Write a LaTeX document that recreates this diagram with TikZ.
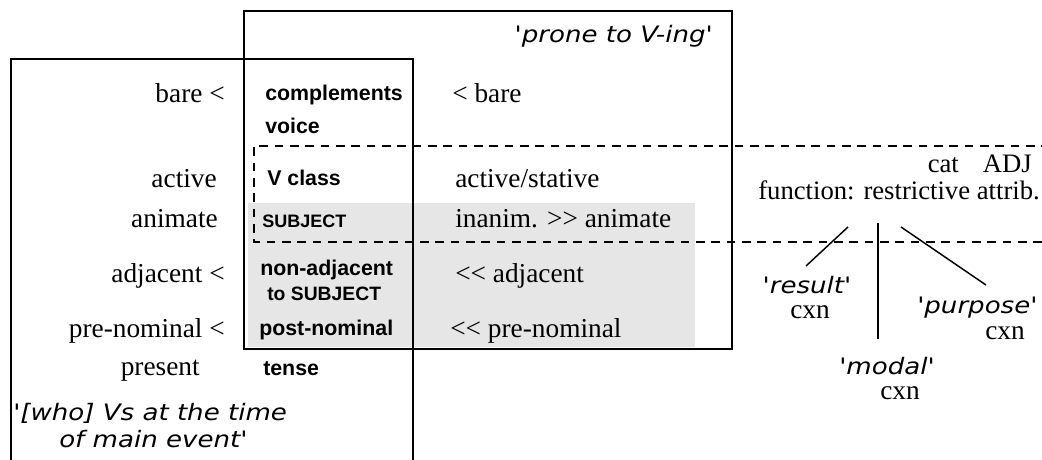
\documentclass[tikz,border=0pt]{standalone}
\usepackage{fontspec}
\setmainfont{Liberation Serif}[Ligatures=TeXOff]
\newfontfamily\lblfont{Liberation Sans}[Ligatures=TeXOff]
\newfontfamily\comicfont{DejaVu Sans}[Ligatures=TeXOff,FakeStretch=1.15]
\definecolor{panelgray}{RGB}{230,230,230}
\begin{document}
\begin{tikzpicture}[x=0.75pt,y=-0.75pt,
  serif/.style={inner sep=0pt, font=\fontsize{20.5}{24}\selectfont},
  serifsm/.style={inner sep=0pt, font=\fontsize{20}{23}\selectfont},
  lbl/.style={inner sep=0pt, font=\lblfont\bfseries\fontsize{16}{19}\selectfont},
  lblsmall/.style={inner sep=0pt, font=\lblfont\bfseries\fontsize{13.5}{16}\selectfont},
  lblmid/.style={inner sep=0pt, font=\lblfont\bfseries\fontsize{14.5}{17}\selectfont},
  comic/.style={inner sep=0pt, font=\comicfont\itshape\fontsize{17}{20}\selectfont},
  boxline/.style={line width=1.5pt},
  dashline/.style={line width=1.3pt, dash pattern=on 6.5pt off 5pt},
  cxnline/.style={line width=1.1pt}]
\clip (0,0) rectangle (1042,460);
% shaded region
\fill[panelgray] (248,203) rectangle (695,347);
% boxes
\draw[boxline] (11,470) -- (11,59) -- (413,59) -- (413,470);
\draw[boxline] (244,11) rectangle (732,349);
% dashed region
\draw[dashline] (1050,146) -- (254,146) -- (254,242) -- (1050,242);

% left column (serif)
\node[serif, anchor=base east] (bareL) at (225,103) {bare <};
\node[serif, anchor=base east] (activeL) at (217,187) {active};
\node[serif, anchor=base east] (animL) at (218,227) {animate};
\node[serif, anchor=base east] (adjL) at (225,282) {adjacent <};
\node[serif, anchor=base east] (preL) at (225,337) {pre-nominal <};
\node[serif, anchor=base east] (presL) at (200,375) {present};

% middle labels (bold sans)
\node[lbl, anchor=base west] (compl) at (265,100) {complements};
\node[lbl, anchor=base west] (voice) at (265,133) {voice};
\node[lbl, anchor=base west] (vclass) at (267,185) {V class};
\node[lblsmall, anchor=base west] (subj) at (262,227) {SUBJECT};
\node[lbl, anchor=base west] (nonadj) at (260,275) {non-adjacent};
\node[lblmid, anchor=base west] (tosubj) at (267,300) {to SUBJECT};
\node[lbl, anchor=base west] (postnom) at (259,335) {post-nominal};
\node[lbl, anchor=base west] (tense) at (263,375) {tense};

% right column (serif)
\node[serif, anchor=base west] (bareR) at (452,103) {< bare};
\node[serif, anchor=base west] (actstat) at (455,187) {active/stative};
\node[serif, anchor=base west] (inanim) at (455,227) {inanim. >> animate};
\node[serif, anchor=base west] (adjR) at (455,282) {<< adjacent};
\node[serif, anchor=base west] (preR) at (450,337) {<< pre-nominal};

% comic labels
\node[comic, anchor=base east] (prone) at (713,43) {'prone to V-ing'};
\node[comic, anchor=base west] (who1) at (13,420) {'[who] Vs at the time};
\node[comic, anchor=base west] (who2) at (59,447) {of main event'};

% construction on the right
\node[serifsm, anchor=base east, text depth=0pt] (cat) at (1032,172) {cat\hspace{0.9em}ADJ};
\node[serifsm, anchor=base east, text height=13pt] (func) at (1040,199) {function: restrictive attrib.};

\node[comic, anchor=base] (result) at (807,293) {'result'};
\node[serif, anchor=base] (cxnR) at (810,318) {cxn};
\node[comic, anchor=base west] (purpose) at (917,313) {'purpose'};
\node[serif, anchor=base] (cxnP) at (1005,339) {cxn};
\node[comic, anchor=base, text depth=0pt] (modal) at (887,374) {'modal'};
\node[serif, anchor=base] (cxnM) at (900,399) {cxn};

\coordinate (r1) at (848,227);
\coordinate (r2) at (806,266);
\coordinate (m1) at (878,223);
\coordinate (m2) at (878,339);
\coordinate (p1) at (901,227);
\coordinate (p2) at (986,285);
\draw[cxnline] (r1) -- (r2);
\draw[cxnline] (m1) -- (m2);
\draw[cxnline] (p1) -- (p2);
\end{tikzpicture}
\end{document}
